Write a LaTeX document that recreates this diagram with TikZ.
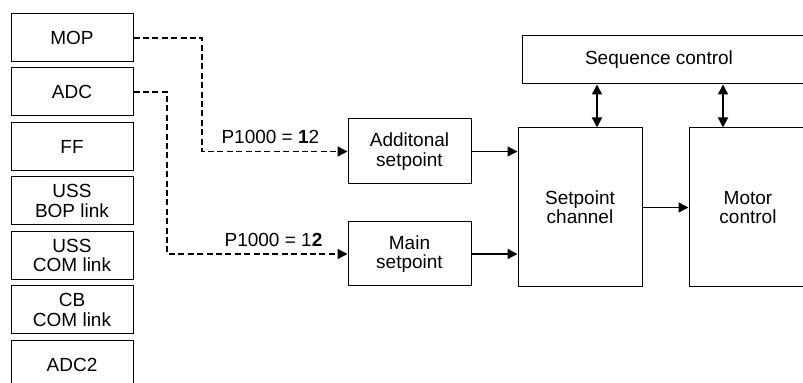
\documentclass[tikz,border=0pt]{standalone}
\usepackage{fontspec}
\setmainfont{Liberation Sans}
\usetikzlibrary{arrows.meta}

\begin{document}
\begin{tikzpicture}[x=0.5pt, y=-0.5pt, font=\fontsize{9.5}{9.6}\selectfont,
    blk/.style={draw, line width=0.5pt, inner sep=0pt, align=center},
    arr/.style={-{Triangle[length=5pt,width=5pt]}, line width=0.7pt},
    biarr/.style={{Triangle[length=5pt,width=5pt]}-{Triangle[length=5pt,width=5pt]}, line width=0.7pt},
    dsh/.style={arr, dash pattern=on 3pt off 1.7pt}]
  \useasboundingbox (0,0) rectangle (803,383);
  \clip (0,0) rectangle (803,383);
  % setpoint sources
  \foreach \y/\n/\t in {38/mop/MOP,92/adc/ADC,146.5/ff/FF,201/bop/{USS\\BOP link},
      255.5/com/{USS\\COM link},310/cb/{CB\\COM link},365/adctwo/ADC2}{
    \node[blk, minimum width=61pt, minimum height=24pt] (\n) at (72,\y) {\t}; }
  \node[blk, minimum width=61.5pt, minimum height=32.5pt] (add) at (409.5,151.5) {Additonal\\setpoint};
  \node[blk, minimum width=61.5pt, minimum height=32pt] (main) at (409.5,254) {Main\\setpoint};
  \node[blk, minimum width=62pt, minimum height=79.5pt] (chan) at (580,207.5) {Setpoint\\channel};
  \node[blk, minimum width=59pt, minimum height=79.5pt] (motor) at (748,207.5) {Motor\\control};
  \node[blk, minimum width=145pt, minimum height=24pt, anchor=west] (seq) at (522,60) {};
  \node (seqtxt) at (659,60) {Sequence control};
  \draw[arr] (add.east) -- (add.east -| chan.west);
  \draw[arr] (main.east) -- (main.east -| chan.west);
  \draw[arr] (chan.east) -- (chan.east -| motor.west);
  \coordinate (u1) at (597,0);
  \coordinate (u2) at (723,0);
  \draw[biarr] (seq.south -| u1) -- (chan.north -| u1);
  \draw[biarr] (seq.south -| u2) -- (motor.north -| u2);
  % parameter selection
  \coordinate (k1) at (202,151.5);
  \coordinate (k2) at (167,254);
  \draw[dsh] (mop.east) -| (k1) -- node[above, pos=0.47] {P1000 = \textbf{1}2} (add.west);
  \draw[dsh] (adc.east) -| (k2) -- node[above, pos=0.59] {P1000 = 1\textbf{2}} (main.west);
\end{tikzpicture}
\end{document}
